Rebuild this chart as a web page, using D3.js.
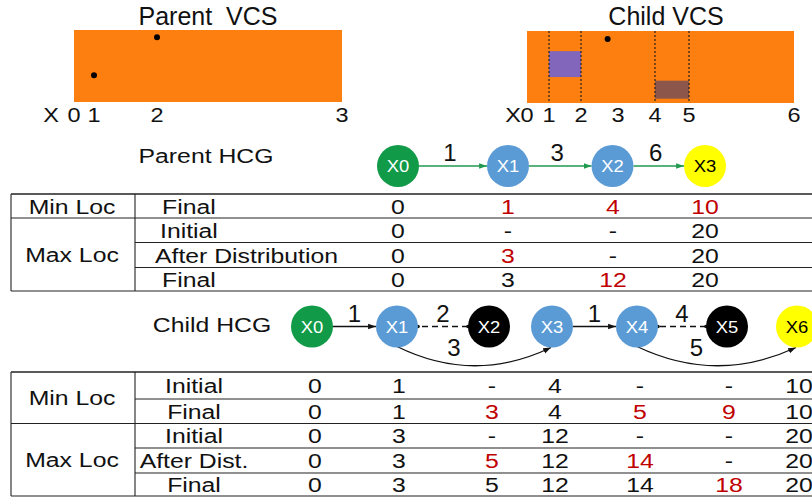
<!DOCTYPE html>
<html lang="en">
<head>
<meta charset="UTF-8">
<title>Parent / Child VCS and HCG</title>
<script src="https://d3js.org/d3.v7.min.js"></script>
<style>
  body { margin: 0; background: #fff; }
  svg { display: block; font-family: "Liberation Sans", Arial, sans-serif; }
  text { white-space: pre; }
</style>
</head>
<body>
<svg id="chart" width="812" height="498"></svg>
<script>
// ---- data ----
const parentTicks = [0, 1, 2, 3];
const parentDots = [[1, 0.37], [2, 0.9]];          // [x tick, relative height]
const childTicks = [0, 1, 2, 3, 4, 5, 6];
const childDots = [[2.72, 0.89]];
const childGuides = [1, 2, 4, 5];
const childBoxes = [[1, 2, 0.36, 0.72], [4, 5, 0.06, 0.31]]; // x0, x1, y0, y1

const parentNodes = ["X0", "X1", "X2", "X3"];
const parentKinds = ["start", "mid", "mid", "end"];
const parentEdges = [["X0", "X1", 1], ["X1", "X2", 3], ["X2", "X3", 6]];

const childNodes = ["X0", "X1", "X2", "X3", "X4", "X5", "X6"];
const childKinds = ["start", "mid", "dead", "mid", "mid", "dead", "end"];
const childEdges = [
  ["X0", "X1", 1, "solid"], ["X2", "X1", 2, "dashed"], ["X1", "X3", 3, "curve"],
  ["X3", "X4", 1, "solid"], ["X5", "X4", 4, "dashed"], ["X4", "X6", 5, "curve"]
];

const groupNames = ["Min Loc", "Max Loc"];
const parentGroupRows = [[0, 0], [1, 3]];
const parentRowLabels = ["Final", "Initial", "After Distribution", "Final"];
const parentValues = [
  ["0", "1", "4", "10"],
  ["0", "-", "-", "20"],
  ["0", "3", "-", "20"],
  ["0", "3", "12", "20"]
];
const parentRed = [[1, 2, 3], [], [1], [2]];

const childGroupRows = [[0, 1], [2, 4]];
const childRowLabels = ["Initial", "Final", "Initial", "After Dist.", "Final"];
const childValues = [
  ["0", "1", "-", "4", "-", "-", "10"],
  ["0", "1", "3", "4", "5", "9", "10"],
  ["0", "3", "-", "12", "-", "-", "20"],
  ["0", "3", "5", "12", "14", "-", "20"],
  ["0", "3", "5", "12", "14", "18", "20"]
];
const childRed = [[], [2, 4, 5], [], [2, 4], [5]];

// ---- layout / style ----
const W = 812, H = 498;
const ORANGE = "#fd7f0f", RED = "#c00000";
const boxColors = ["#8166bb", "#8c564b"];
const nodeFill = { start: "#119a47", mid: "#5b9bd5", dead: "#000", end: "#ffff00" };
const R = 21;

const svg = d3.select("#chart");
svg.append("rect").attr("width", W).attr("height", H).attr("fill", "#fff");

function txt(x, y, s, size, opt = {}) {
  return svg.append("text")
    .attr("transform", `translate(${x},${y}) scale(${opt.sx || 1},1)`)
    .attr("text-anchor", opt.anchor || "middle")
    .attr("font-size", size)
    .attr("fill", opt.fill || "#111")
    .text(s);
}

// markers
const defs = svg.append("defs");
[["arrowG", "#1f9a4f"], ["arrowK", "#111"]].forEach(([id, c]) => {
  defs.append("marker").attr("id", id)
    .attr("viewBox", "0 -4 9 8").attr("refX", 9).attr("refY", 0)
    .attr("markerUnits", "userSpaceOnUse")
    .attr("markerWidth", 8).attr("markerHeight", 7).attr("orient", "auto")
    .append("path").attr("d", "M0,-3.2L9,0L0,3.2Z").attr("fill", c);
});
defs.append("marker").attr("id", "dot")
  .attr("viewBox", "-3 -3 6 6").attr("refX", 0).attr("refY", 0)
  .attr("markerUnits", "userSpaceOnUse")
  .attr("markerWidth", 5).attr("markerHeight", 5)
  .append("circle").attr("r", 2.2).attr("fill", "#111");

// ---- VCS panels ----
function drawVCS(title, titleX, ticks, xRange, yRange, labelX, dots) {
  const x = d3.scaleLinear().domain(ticks).range(xRange);
  const y = d3.scaleLinear().domain([0, 1]).range(yRange);
  svg.append("rect")
    .attr("x", x(ticks[0])).attr("y", y(1))
    .attr("width", x(ticks[ticks.length - 1]) - x(ticks[0]))
    .attr("height", y(0) - y(1))
    .attr("fill", ORANGE);
  txt(titleX, 25, title, 25);
  txt(labelX, 122, "X", 21, { sx: 1.12 });
  ticks.forEach(t => txt(x(t), 122, String(t), 21, { sx: 1.12 }));
  return { x, y, dots };
}

const pv = drawVCS("Parent  VCS", 208, parentTicks, [74, 94, 157, 342], [102, 30], 51, parentDots);
const cv = drawVCS("Child VCS", 666, childTicks, [527, 549, 581, 618, 655, 689, 794], [103, 31], 513, childDots);

childBoxes.forEach((b, i) => {
  svg.append("rect")
    .attr("x", cv.x(b[0])).attr("y", cv.y(b[3]))
    .attr("width", cv.x(b[1]) - cv.x(b[0])).attr("height", cv.y(b[2]) - cv.y(b[3]))
    .attr("fill", boxColors[i]);
});
childGuides.forEach(g => {
  svg.append("line")
    .attr("x1", cv.x(g)).attr("x2", cv.x(g))
    .attr("y1", cv.y(1)).attr("y2", cv.y(0))
    .attr("stroke", "#222").attr("stroke-width", 1.2).attr("stroke-dasharray", "2,2");
});
[pv, cv].forEach(p => {
  p.dots.forEach(d => {
    svg.append("circle").attr("cx", p.x(d[0])).attr("cy", p.y(d[1])).attr("r", 3).attr("fill", "#000");
  });
});

// ---- HCG graphs ----
function drawNodes(names, kinds, xs, cy) {
  const x = d3.scaleOrdinal().domain(names).range(xs);
  names.forEach((n, i) => {
    svg.append("circle").attr("cx", x(n)).attr("cy", cy).attr("r", R).attr("fill", nodeFill[kinds[i]]);
    txt(x(n), cy + 6, n, 16, { sx: 1.15, fill: kinds[i] === "end" ? "#000" : "#fff" });
  });
  return x;
}

// parent
txt(206, 163, "Parent HCG", 21, { sx: 1.18 });
const pY = 166;
const pxs = [398, 508, 612.5, 705];
const px = d3.scaleOrdinal().domain(parentNodes).range(pxs);
parentEdges.forEach(([a, b, w]) => {
  svg.append("line")
    .attr("x1", px(a) + R).attr("x2", px(b) - R).attr("y1", pY).attr("y2", pY)
    .attr("stroke", "#1f9a4f").attr("stroke-width", 1.3).attr("marker-end", "url(#arrowG)");
  txt((px(a) + px(b)) / 2 - 3, pY - 5, String(w), 24);
});
drawNodes(parentNodes, parentKinds, pxs, pY);

// child
txt(212, 332, "Child HCG", 21, { sx: 1.18 });
const cY = 326.5;
const cxs = [312, 397, 489, 552, 637, 727, 797];
const cx = d3.scaleOrdinal().domain(childNodes).range(cxs);
childEdges.forEach(([a, b, w, kind]) => {
  if (kind === "curve") {
    const sx = cx(a), ex = cx(b) - 1, sy = cY + R - 1, ey = cY + R;
    const path = d3.path();
    path.moveTo(sx, sy);
    path.quadraticCurveTo((sx + ex) / 2, cY + R + 37, ex, ey);
    svg.append("path").attr("d", path.toString()).attr("fill", "none")
      .attr("stroke", "#111").attr("stroke-width", 1.3).attr("marker-end", "url(#arrowK)");
    txt((sx + ex) / 2 - 20, 356, String(w), 24);
  } else {
    const left = Math.min(cx(a), cx(b)), right = Math.max(cx(a), cx(b));
    const dir = cx(a) < cx(b) ? 1 : -1;
    const l = svg.append("line")
      .attr("x1", cx(a) + dir * R).attr("x2", cx(b) - dir * R)
      .attr("y1", cY).attr("y2", cY)
      .attr("stroke", "#111").attr("stroke-width", 1.3);
    if (kind === "dashed") {
      l.attr("stroke-dasharray", "6,4").attr("marker-start", "url(#dot)").attr("marker-end", "url(#dot)");
    } else {
      l.attr("marker-end", "url(#arrowK)");
    }
    txt((left + right) / 2, cY - 5, String(w), 24);
  }
});
drawNodes(childNodes, childKinds, cxs, cY);

// ---- tables ----
function drawTable(rowEdges, groupRows, rowLabels, labelPos, values, red, colX) {
  const top = rowEdges[0], bottom = rowEdges[rowEdges.length - 1];
  const groupStarts = groupRows.map(g => g[0]);
  rowEdges.forEach((y, i) => {
    const full = i === 0 || i === rowEdges.length - 1 || groupStarts.includes(i);
    svg.append("line")
      .attr("x1", full ? 11 : 135).attr("x2", W)
      .attr("y1", y).attr("y2", y)
      .attr("stroke", "#222").attr("stroke-width", i === 0 ? 1.6 : 1.1);
  });
  [11, 135].forEach(xv => {
    svg.append("line").attr("x1", xv).attr("x2", xv).attr("y1", top).attr("y2", bottom)
      .attr("stroke", "#222").attr("stroke-width", 1.1);
  });
  groupRows.forEach(([a, b], gi) => {
    const yc = (rowEdges[a] + rowEdges[b + 1]) / 2;
    txt(72, yc + 7.5, groupNames[gi], 21, { sx: 1.18 });
  });
  rowLabels.forEach((lab, i) => {
    const yc = (rowEdges[i] + rowEdges[i + 1]) / 2;
    const p = labelPos[i];
    txt(p[0], yc + 7.5, lab, 21, { sx: 1.18, anchor: p[1] });
    values[i].forEach((v, j) => {
      txt(colX[j], yc + 7.5, v, 21, { sx: 1.18, fill: red[i].includes(j) ? RED : "#111" });
    });
  });
}

drawTable([194, 218, 242.5, 267.5, 291], parentGroupRows, parentRowLabels,
  [[162, "start"], [160, "start"], [155, "start"], [162, "start"]],
  parentValues, parentRed, [398, 508, 613, 705]);

drawTable([372, 399, 423.5, 448, 473, 496], childGroupRows, childRowLabels,
  childRowLabels.map(() => [194, "middle"]),
  childValues, childRed, [315, 399, 492, 555, 640, 729, 799]);
</script>
</body>
</html>
